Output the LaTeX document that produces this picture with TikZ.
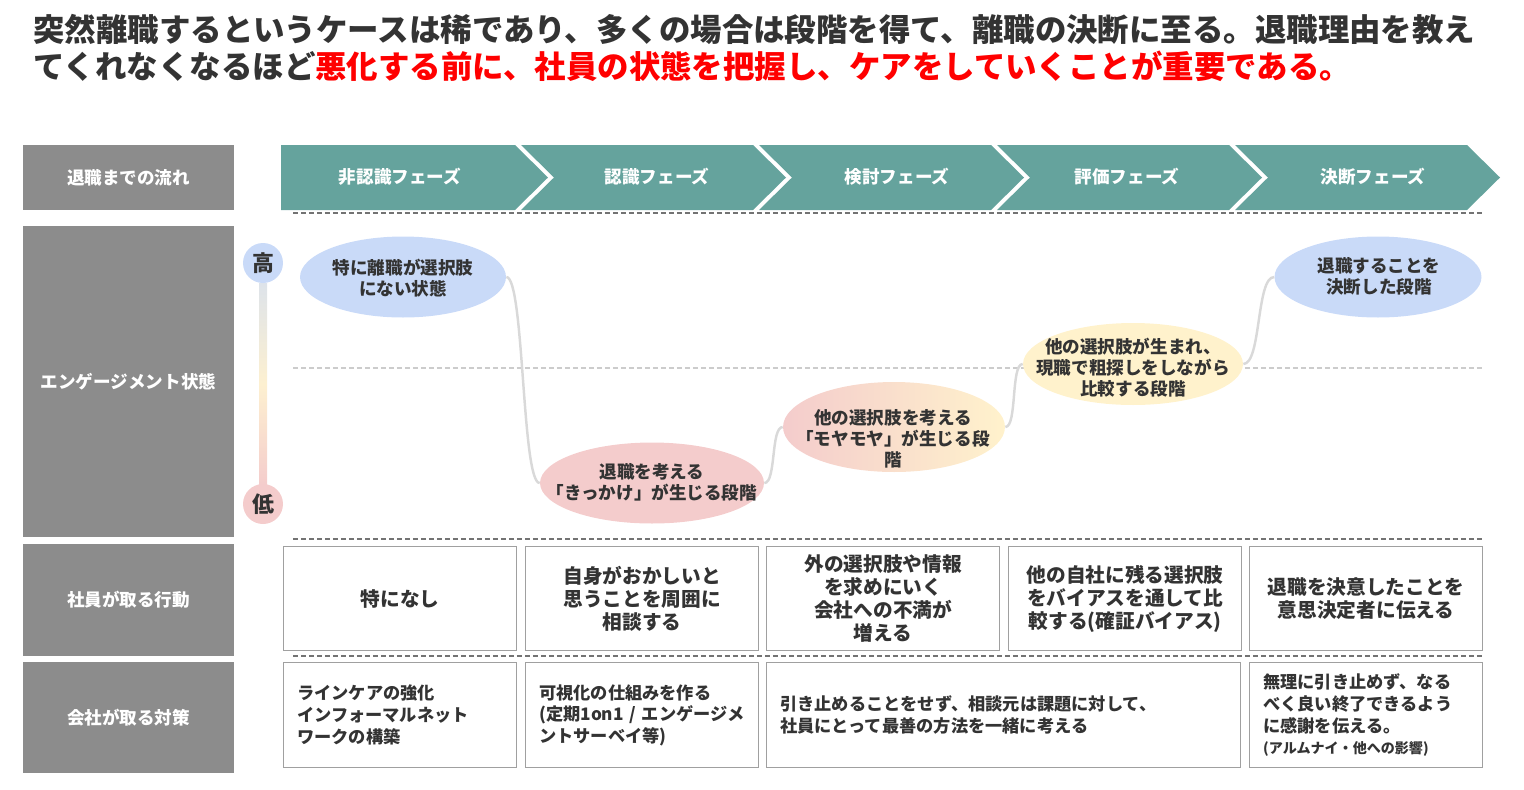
\documentclass[tikz,border=0pt]{standalone}
\usepackage{fontspec}
\setmainfont{Noto Sans CJK JP}
\usetikzlibrary{shapes.geometric}

\definecolor{vertphase}{HTML}{65A39D}
\definecolor{grislab}{HTML}{8C8C8C}
\definecolor{bleuet}{HTML}{C9DAF8}
\definecolor{roseet}{HTML}{F4CCCC}
\definecolor{jauneet}{HTML}{FFF2CC}
\definecolor{barhaut}{HTML}{DDE3EA}
\definecolor{barmil}{HTML}{FDF0D0}
\definecolor{rouge}{HTML}{FF0000}
\definecolor{encre}{HTML}{333333}
\definecolor{trait}{HTML}{D9D9D9}
\definecolor{bord}{HTML}{A0A0A0}

\tikzset{
  lab/.style={fill=grislab, text=white, minimum width=4.22cm, inner sep=0, font=\bfseries\fontsize{10}{12}\selectfont},
  phase/.style={text=white, inner sep=0, font=\bfseries\fontsize{10}{12}\selectfont},
  etat/.style={ellipse, inner sep=0},
  etxt/.style={align=center, inner sep=0, text=encre, font=\bfseries\fontsize{10}{12}\selectfont},
  niveau/.style={circle, minimum size=0.8cm, inner sep=0, text=encre, font=\bfseries\fontsize{12.5}{14}\selectfont},
  boite/.style={draw=bord, line width=0.8pt, anchor=north west, inner sep=0, text=encre},
  action/.style={boite, minimum width=4.66cm, minimum height=2.08cm, align=center, font=\bfseries\fontsize{11.2}{13.2}\selectfont},
  mesure/.style={boite, minimum height=2.1cm, inner xsep=0.27cm, align=left, font=\bfseries\fontsize{9.8}{12.4}\selectfont},
  pointille/.style={dash pattern=on 0.1cm off 0.06cm, line width=0.03cm, draw=gray!90!black},
  courbe/.style={draw=trait, line width=1.4pt},
}

\begin{document}
\begin{tikzpicture}[x=0.02cm, y=-0.02cm]
\useasboundingbox (0,0) rectangle (1524,789); % cadre de l'image

% titre
\node[anchor=west, inner sep=0, text=encre, font=\bfseries\fontsize{17.9}{20}\selectfont] (titre1) at (33,29) {突然離職するというケースは稀であり、多くの場合は段階を得て、離職の決断に至る。退職理由を教え};
\node[anchor=west, inner sep=0, text=encre, font=\bfseries\fontsize{17.9}{20}\selectfont] (titre2) at (33,66) {てくれなくなるほど\textcolor{rouge}{悪化する前に、社員の状態を把握し、ケアをしていくことが重要である。}};

% colonne de gauche
\node[lab, minimum height=1.3cm] (lab1) at (128.5,177.5) {退職までの流れ};
\node[lab, minimum height=6.22cm] (lab2) at (128.5,381.5) {エンゲージメント状態};
\node[lab, minimum height=2.24cm] (lab3) at (128.5,600) {社員が取る行動};
\node[lab, minimum height=2.22cm] (lab4) at (128.5,717.5) {会社が取る対策};

% phases
\fill[vertphase] (281,145) -- (515,145) -- (548,177.5) -- (515,210) -- (281,210) -- cycle;
\foreach \i in {1,...,4} {
  \pgfmathsetmacro\r{515+238*\i}
  \fill[vertphase] (\r-232,145) -- (\r,145) -- (\r+33,177.5) -- (\r,210) -- (\r-232,210) -- (\r-199,177.5) -- cycle;
}
\node[phase] (ph1) at (400,177) {非認識フェーズ};
\node[phase] (ph2) at (657,177) {認識フェーズ};
\node[phase] (ph3) at (897,177) {検討フェーズ};
\node[phase] (ph4) at (1127,177) {評価フェーズ};
\node[phase] (ph5) at (1373,177) {決断フェーズ};

% lignes pointillees
\draw[pointille] (293,213) -- (1482,213);
\draw[pointille, draw=gray!40] (293,368) -- (1482,368);
\draw[pointille] (293,539) -- (1482,539);
\draw[pointille] (293,656) -- (1482,656);

% echelle haut / bas
\shade[top color=barhaut, bottom color=roseet, middle color=barmil] (259,283) rectangle (267,486);
\node[niveau, fill=bleuet] (haut) at (263,263) {高};
\node[niveau, fill=roseet] (bas) at (263,504) {低};

% etats
\node[etat, fill=bleuet, minimum width=4.12cm, minimum height=1.62cm] (et1) at (403,277) {};
\node[etat, fill=roseet, minimum width=4.48cm, minimum height=1.62cm] (et2) at (652,483) {};
\node[etat, left color=roseet, right color=jauneet, minimum width=4.44cm, minimum height=1.8cm] (et3) at (894,427) {};
\node[etat, fill=jauneet, minimum width=4.4cm, minimum height=1.64cm] (et4) at (1133,364) {};
\node[etat, fill=bleuet, minimum width=4.14cm, minimum height=1.62cm] (et5) at (1378,277) {};

\draw[courbe] (et1.east) .. controls +(18,0) and +(-18,0) .. (et2.west);
\draw[courbe] (et2.east) .. controls +(12,0) and +(-12,0) .. (et3.west);
\draw[courbe] (et3.east) .. controls +(12,0) and +(-12,0) .. (et4.west);
\draw[courbe] (et4.east) .. controls +(18,0) and +(-18,0) .. (et5.west);

\node[etxt] (tx1) at (403,278) {特に離職が選択肢\\にない状態};
\node[etxt] (tx2) at (652,482) {退職を考える\\「きっかけ」が生じる段階};
\node[etxt] (tx3) at (893,439) {他の選択肢を考える\\「モヤモヤ」が生じる段\\階};
\node[etxt] (tx4) at (1133,368) {他の選択肢が生まれ、\\現職で粗探しをしながら\\比較する段階};
\node[etxt] (tx5) at (1379,276) {退職することを\\決断した段階};

% actions de l'employe
\node[action] (act1) at (283,546) {特になし};
\node[action] (act2) at (525,546) {自身がおかしいと\\思うことを周囲に\\相談する};
\node[action] (act3) at (766,546) {外の選択肢や情報\\を求めにいく\\会社への不満が\\増える};
\node[action] (act4) at (1008,546) {他の自社に残る選択肢\\をバイアスを通して比\\較する(確証バイアス)};
\node[action] (act5) at (1249,546) {退職を決意したことを\\意思決定者に伝える};

% mesures de l'entreprise
\node[mesure, text width=4.12cm] (mes1) at (283,662) {ラインケアの強化\\インフォーマルネット\\ワークの構築};
\node[mesure, text width=4.12cm] (mes2) at (525,662) {可視化の仕組みを作る\\(定期1on1 / エンゲージメ\\ントサーベイ等)};
\node[mesure, text width=8.94cm] (mes3) at (766,662) {引き止めることをせず、相談元は課題に対して、\\社員にとって最善の方法を一緒に考える};
\node[mesure, text width=4.12cm] (mes5) at (1249,662) {無理に引き止めず、なる\\べく良い終了できるよう\\に感謝を伝える。\\{\fontsize{8}{10}\selectfont (アルムナイ・他への影響)}};
\end{tikzpicture}
\end{document}
